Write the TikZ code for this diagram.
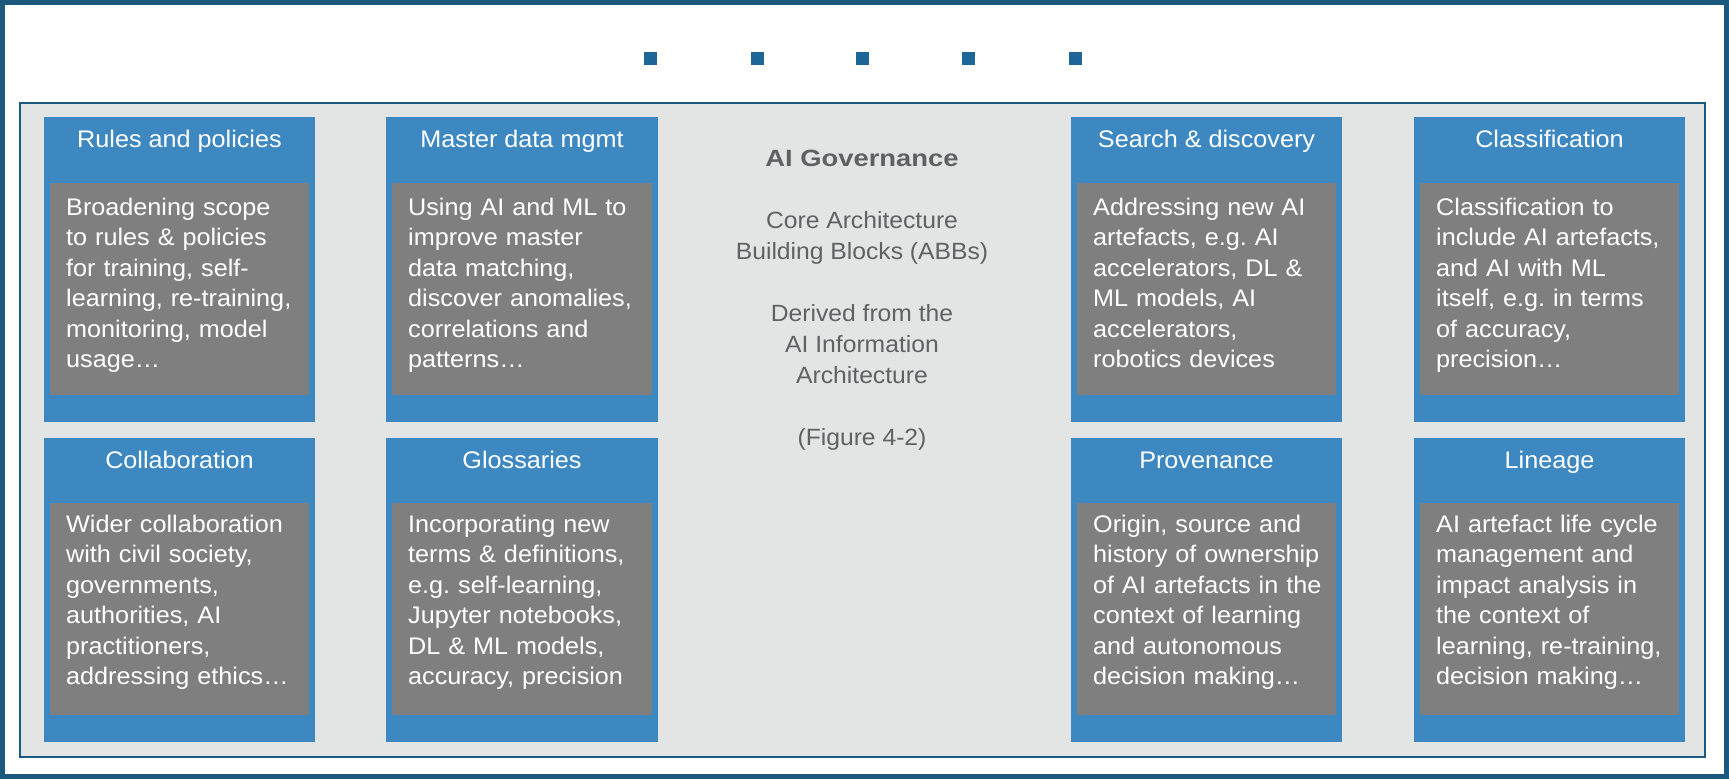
\documentclass[tikz,border=0pt]{standalone}
\usepackage{graphicx}
\usepackage{fontspec}
\setmainfont[FakeStretch=1.05]{Liberation Sans}
\usetikzlibrary{positioning}
\frenchspacing
\definecolor{framebl}{HTML}{1B5A7E}
\definecolor{abbblue}{HTML}{3D88C1}
\definecolor{abbgray}{HTML}{7F7F7F}
\definecolor{panelgray}{HTML}{E3E4E4}
\definecolor{govtext}{HTML}{5F6163}
\definecolor{dotblue}{HTML}{1E6698}

\begin{document}
\begin{tikzpicture}[x=1pt,y=-1pt,
  headtext/.style={text=white,font=\fontsize{24}{30}\selectfont,inner sep=0,anchor=base},
  bodytext/.style={text=white,font=\fontsize{24}{30.4}\selectfont,align=left,text width=255pt,anchor=north west,inner sep=0}]
  \useasboundingbox (0,0) rectangle (1729,779);
  \draw[framebl,line width=5pt] (2.5,2.5) rectangle (1726.5,776.5);
  \foreach \sx in {650,757,862,968,1075}
    \fill[dotblue] (\sx-6.5,51.5) rectangle ++(13,13);
  \fill[panelgray] (20,103) rectangle (1705,757); \draw[framebl,line width=1.5pt] (20,103) rectangle (1705,757);
  % top row
  \fill[abbblue] (44,117) rectangle (315,422); \fill[abbgray] (50,183) rectangle (309,395);
  \node[headtext] (rules) at (179.5,147.6) {Rules and policies};
  \node[bodytext] (rulestxt) at (66,198) {Broadening scope\\to rules \& policies\\for training, self-\\learning, re-training,\\monitoring, model\\usage…};
  \fill[abbblue] (386,117) rectangle (658,422); \fill[abbgray] (392,183) rectangle (652,395);
  \node[headtext] (mdm) at (522,147.6) {Master data mgmt};
  \node[bodytext] (mdmtxt) at (408,198) {Using AI and ML to\\improve master\\data matching,\\discover anomalies,\\correlations and\\patterns…};
  \fill[abbblue] (1071,117) rectangle (1342,422); \fill[abbgray] (1077,183) rectangle (1336,395);
  \node[headtext] (search) at (1206.5,147.6) {Search \& discovery};
  \node[bodytext] (searchtxt) at (1093,198) {Addressing new AI\\artefacts, e.g. AI\\accelerators, DL \&\\ML models, AI\\accelerators,\\robotics devices};
  \fill[abbblue] (1414,117) rectangle (1685,422); \fill[abbgray] (1420,183) rectangle (1679,395);
  \node[headtext] (classif) at (1549.5,147.6) {Classification};
  \node[bodytext] (classiftxt) at (1436,198) {Classification to\\include AI artefacts,\\and AI with ML\\itself, e.g. in terms\\of accuracy,\\precision…};
  % bottom row
  \fill[abbblue] (44,438) rectangle (315,742); \fill[abbgray] (50,503) rectangle (309,715);
  \node[headtext] (collab) at (179.5,468.5) {Collaboration};
  \node[bodytext] (collabtxt) at (66,515) {Wider collaboration\\with civil society,\\governments,\\authorities, AI\\practitioners,\\addressing ethics…};
  \fill[abbblue] (386,438) rectangle (658,742); \fill[abbgray] (392,503) rectangle (652,715);
  \node[headtext] (gloss) at (522,468.5) {Glossaries};
  \node[bodytext] (glosstxt) at (408,515) {Incorporating new\\terms \& definitions,\\e.g. self-learning,\\Jupyter notebooks,\\DL \& ML models,\\accuracy, precision};
  \fill[abbblue] (1071,438) rectangle (1342,742); \fill[abbgray] (1077,503) rectangle (1336,715);
  \node[headtext] (prov) at (1206.5,468.5) {Provenance};
  \node[bodytext] (provtxt) at (1093,515) {Origin, source and\\history of ownership\\of AI artefacts in the\\context of learning\\and autonomous\\decision making…};
  \fill[abbblue] (1414,438) rectangle (1685,742); \fill[abbgray] (1420,503) rectangle (1679,715);
  \node[headtext] (lineage) at (1549.5,468.5) {Lineage};
  \node[bodytext] (lineagetxt) at (1436,515) {AI artefact life cycle\\management and\\impact analysis in\\the context of\\learning, re-training,\\decision making…};
  % centre caption
  \node[anchor=north,align=center,inner sep=0,text=govtext,font=\fontsize{23.5}{31}\selectfont] (gov) at (862,150)
    {\scalebox{1.11}[1]{\textbf{AI Governance}}\\[31pt]Core Architecture\\Building Blocks (ABBs)\\[31pt]Derived from the\\AI Information\\Architecture\\[31pt](Figure 4-2)};
\end{tikzpicture}
\end{document}
